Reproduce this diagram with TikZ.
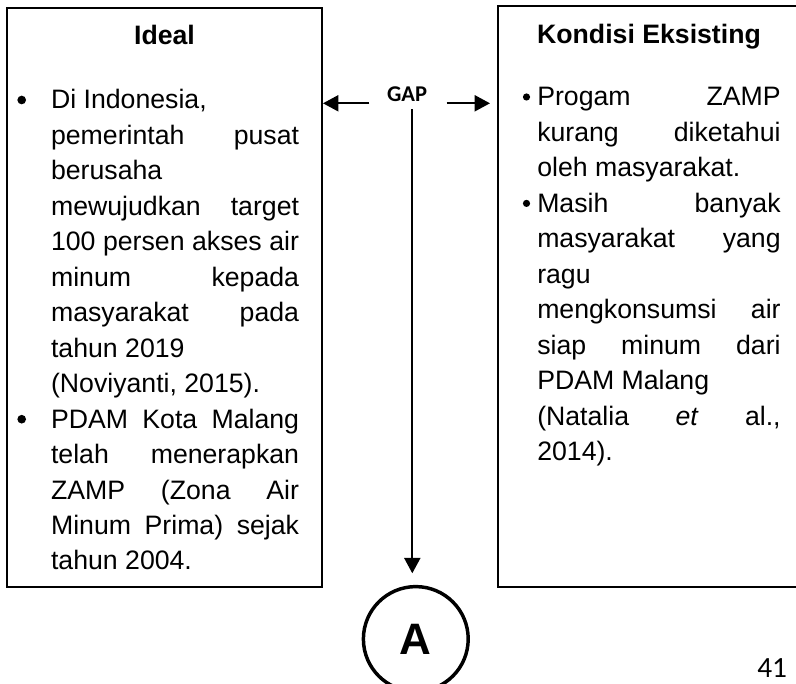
\documentclass[tikz,border=0pt]{standalone}
\usepackage{fontspec}
\setmainfont{Liberation Sans}
\newfontfamily\calib{Carlito}
\usetikzlibrary{arrows.meta}
\newcommand{\jl}[1]{\makebox[186pt][s]{#1}}
\newcommand{\jr}[1]{\makebox[182.5pt][s]{#1}}
\begin{document}
\begin{tikzpicture}[x=0.75pt,y=-0.75pt,
  txt/.style={anchor=base west, inner sep=0pt, font=\fontsize{20pt}{24pt}\selectfont},
  ttl/.style={anchor=base, inner sep=0pt, font=\fontsize{20pt}{24pt}\selectfont\bfseries},
  box/.style={draw, line width=1.5pt, inner sep=0pt},
  bulL/.style={circle, fill, inner sep=0pt, minimum size=6.5pt},
  bulR/.style={circle, fill, inner sep=0pt, minimum size=5.4pt},
  arr/.style={line width=1.5pt, -{Triangle[length=11.5pt,width=12pt]}}]
\useasboundingbox (0,0) rectangle (796,684);
\clip (0,0) rectangle (796,684);
% boxes
\node[box, minimum width=236.25pt, minimum height=433.65pt] (ideal) at (164.5,297.6) {};
\node[box, minimum width=226.5pt, minimum height=435.6pt] (kondisi) at (649,296.9) {};
% titles
\node[ttl] (tideal) at (164.5,44.3) {Ideal};
\node[ttl] (tkond) at (649,43.3) {Kondisi Eksisting};
% left text
\node[bulL] (bl0) at (21.7,100) {};
\node[bulL] (bl9) at (21.7,419.2) {};
\node[txt] (l0) at (50.8,109) {Di Indonesia,};
\node[txt] (l1) at (50.8,144.46) {\jl{pemerintah pusat}};
\node[txt] (l2) at (50.8,179.92) {berusaha};
\node[txt] (l3) at (50.8,215.38) {\jl{mewujudkan target}};
\node[txt] (l4) at (50.8,250.84) {\jl{100 persen akses air}};
\node[txt] (l5) at (50.8,286.3) {\jl{minum kepada}};
\node[txt] (l6) at (50.8,321.76) {\jl{masyarakat pada}};
\node[txt] (l7) at (50.8,357.22) {tahun 2019};
\node[txt] (l8) at (50.8,392.68) {(Noviyanti, 2015).};
\node[txt] (l9) at (50.8,428.14) {\jl{PDAM Kota Malang}};
\node[txt] (l10) at (50.8,463.6) {\jl{telah menerapkan}};
\node[txt] (l11) at (50.8,499.06) {\jl{ZAMP (Zona Air}};
\node[txt] (l12) at (50.8,534.52) {\jl{Minum Prima) sejak}};
\node[txt] (l13) at (50.8,569.98) {tahun 2004.};
% right text
\node[bulR] (br0) at (526.5,97) {};
\node[bulR] (br3) at (526.5,203.4) {};
\node[txt] (r0) at (537,106) {\jr{Progam ZAMP}};
\node[txt] (r1) at (537,141.46) {\jr{kurang diketahui}};
\node[txt] (r2) at (537,176.92) {oleh masyarakat.};
\node[txt] (r3) at (537,212.38) {\jr{Masih banyak}};
\node[txt] (r4) at (537,247.84) {\jr{masyarakat yang}};
\node[txt] (r5) at (537,283.3) {ragu};
\node[txt] (r6) at (537,318.76) {\jr{mengkonsumsi air}};
\node[txt] (r7) at (537,354.22) {\jr{siap minum dari}};
\node[txt] (r8) at (537,389.68) {PDAM Malang};
\node[txt] (r9) at (537,425.14) {\jr{(Natalia \textit{et} al.,}};
\node[txt] (r10) at (537,460.6) {2014).};
% GAP
\node[anchor=base, inner sep=0pt, font=\calib\bfseries\fontsize{16.9pt}{20pt}\selectfont] (gap) at (407,101.7) {GAP};
\coordinate (gl) at (369.3,103.3);
\coordinate (gr) at (446.7,103.3);
\coordinate (grt) at (490,103.3);
\coordinate (gd) at (412.3,109.3);
\coordinate (gdt) at (412.3,573.3);
\draw[arr] (gl) -- (ideal.east |- gl);
\draw[arr] (gr) -- (grt);
\draw[arr] (gd) -- (gdt);
% circle A
\node[circle, draw, line width=2.6pt, inner sep=0pt, minimum size=78.6pt,
  font=\bfseries\fontsize{33pt}{40pt}\selectfont] (A) at (415.8,639) {A};
% page number
\node[anchor=base west, inner sep=0pt, font=\calib\fontsize{22pt}{26pt}\selectfont] (pg) at (757,677) {41};
\end{tikzpicture}
\end{document}
